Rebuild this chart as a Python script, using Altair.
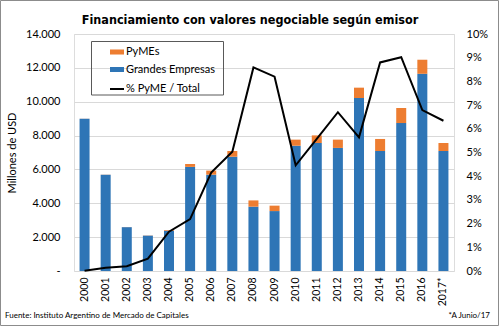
import altair as alt
import pandas as pd

years = ["2000", "2001", "2002", "2003", "2004", "2005", "2006", "2007", "2008",
         "2009", "2010", "2011", "2012", "2013", "2014", "2015", "2016", "2017*"]
grandes = [9000, 5680, 2590, 2090, 2380, 6150, 5690, 6750, 3800,
           3540, 7400, 7560, 7270, 10220, 7090, 8740, 11650, 7090]
pymes = [5, 8, 5, 11, 40, 170, 240, 340, 370,
         320, 360, 450, 490, 610, 710, 890, 830, 470]
pct = [0.0001, 0.0014, 0.0020, 0.0052, 0.0166, 0.0219, 0.0415, 0.0503, 0.0859,
       0.0820, 0.0446, 0.0557, 0.0670, 0.0564, 0.0880, 0.0902, 0.0679, 0.0634]

series_names = ["PyMEs", "Grandes Empresas"]
series_colors = ["#ED7D31", "#2E75B6"]
line_name = "% PyME / Total"

rows = []
for y, g, p in zip(years, grandes, pymes):
    rows.append({"anio": y, "serie": "Grandes Empresas", "valor": g, "orden": 0})
    rows.append({"anio": y, "serie": "PyMEs", "valor": p, "orden": 1})
bars_df = pd.DataFrame(rows)
line_df = pd.DataFrame({"anio": years, "pct": pct, "serie2": [line_name] * len(years)})

FONT = "Lato"

xenc = alt.X("anio:N", sort=years, title=None,
             axis=alt.Axis(labelAngle=-90, labelFont=FONT, labelFontSize=10.5,
                           labelColor="#000", ticks=False, domain=False,
                           labelPadding=6, labelBaseline="middle"))

bars = alt.Chart(bars_df).mark_bar(size=10).encode(
    x=xenc,
    y=alt.Y("valor:Q", stack="zero", title="Millones de USD",
            scale=alt.Scale(domain=[0, 14000]),
            axis=alt.Axis(values=list(range(0, 14001, 2000)), ticks=False, domain=False,
                          labelExpr="datum.value == 0 ? '-' : replace(format(datum.value, ','), ',', '.')",
                          labelFont=FONT, labelFontSize=11, labelColor="#000",
                          labelPadding=14, gridColor="#d9d9d9",
                          titleFont=FONT, titleFontSize=11, titleFontWeight="normal",
                          titleColor="#000", titlePadding=8)),
    color=alt.Color("serie:N", scale=alt.Scale(domain=series_names, range=series_colors),
                    legend=alt.Legend(title=None, orient="none", legendX=35, legendY=10,
                                      symbolType="M-1,-0.36H1V0.36H-1Z", symbolSize=196,
                                      labelFont=FONT, labelFontSize=11, labelColor="#000",
                                      rowPadding=4.5, padding=0, labelOffset=1)),
    order=alt.Order("orden:Q", sort="ascending"),
)

line = alt.Chart(line_df).mark_line(strokeWidth=2).encode(
    x=alt.X("anio:N", sort=years),
    y=alt.Y("pct:Q", title=None, scale=alt.Scale(domain=[0, 0.1]),
            axis=alt.Axis(orient="right", format=".0%", values=[i / 100 for i in range(11)],
                          ticks=False, domain=False, grid=False,
                          labelFont=FONT, labelFontSize=11, labelColor="#000",
                          labelPadding=12)),
    stroke=alt.Stroke("serie2:N", scale=alt.Scale(domain=[line_name], range=["#000000"]),
                      legend=alt.Legend(title=None, orient="none", legendX=35, legendY=47,
                                        symbolType="stroke", symbolSize=196,
                                        symbolStrokeWidth=2,
                                        labelFont=FONT, labelFontSize=11, labelColor="#000",
                                        padding=0, labelOffset=1)),
)

legend_box = alt.Chart(pd.DataFrame({"a": [0]})).mark_rect(
    fill=None, stroke="#595959", strokeWidth=1
).encode(x=alt.value(17.5), x2=alt.value(149.5), y=alt.value(7.5), y2=alt.value(61))

frame = alt.Chart(pd.DataFrame({"a": [0]})).mark_rect(
    fill=None, stroke="#8c8c8c", strokeWidth=1
).encode(x=alt.value(-73.5), x2=alt.value(424.5), y=alt.value(-33.5), y2=alt.value(291.5))

src = alt.Chart(pd.DataFrame({"t": ["Fuente: Instituto Argentino de Mercado de Capitales"]})).mark_text(
    align="left", baseline="alphabetic", font=FONT, fontSize=8, color="#000"
).encode(text="t:N", x=alt.value(-69), y=alt.value(284))

note = alt.Chart(pd.DataFrame({"t": ["*A Junio/17"]})).mark_text(
    align="right", baseline="alphabetic", font=FONT, fontSize=8, color="#000"
).encode(text="t:N", x=alt.value(416), y=alt.value(284))

chart = alt.layer(bars, line, legend_box, frame, src, note).resolve_scale(
    y="independent"
).properties(
    width=380, height=237,
    autosize=alt.AutoSizeParams(type="none"),
    padding={"left": 74, "top": 34, "right": 45, "bottom": 55},
    title=alt.TitleParams("Financiamiento con valores negociable según emisor",
                          font="DejaVu Sans Condensed, DejaVu Sans, sans-serif",
                          fontSize=12.5, fontWeight="bold",
                          color="#000", anchor="middle", frame="group", dx=-14,
                          baseline="alphabetic", offset=-36),
).configure_view(stroke=None).configure(background="white")

chart.save("out.html", embed_options={"renderer": "svg", "actions": False})
